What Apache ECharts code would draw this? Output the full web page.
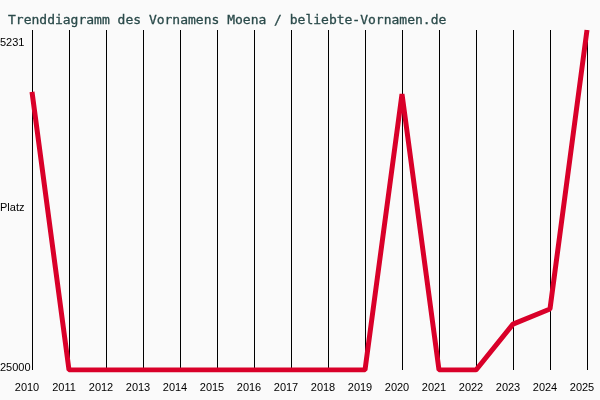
<!doctype html>
<html>
<head>
    <title>Trenddiagramm Moena</title>
    <script src="https://cdn.jsdelivr.net/npm/echarts@6/dist/echarts.min.js"></script>
</head>
<style>
    html, body { margin: 0; padding: 0; background: #fafafa; }
    #chart { width: 600px; height: 400px; }
</style>
<body>
<div id="chart"></div>
<script>
  var years = ['2010', '2011', '2012', '2013', '2014', '2015', '2016', '2017',
               '2018', '2019', '2020', '2021', '2022', '2023', '2024', '2025'];
  var ranks = [8830, 25000, 25000, 25000, 25000, 25000, 25000, 25000,
               25000, 25000, 8950, 25000, 25000, 22330, 21450, 5231];
  var bestRank = 5231;
  var worstRank = 25000;
  var yLabels = ['5231', 'Platz', '25000'];

  var myChart = echarts.init(document.getElementById('chart'));
  var labelFont = { fontFamily: 'Liberation Sans', fontSize: 11, fill: '#000' };

  var option = {
    backgroundColor: '#fafafa',
    animation: false,
    title: {
      text: 'Trenddiagramm des Vornamens Moena / beliebte-Vornamen.de',
      left: 3,
      top: 4,
      textStyle: {
        fontFamily: 'DejaVu Sans Mono',
        fontWeight: 'normal',
        fontSize: 13,
        color: '#2a4a4a',
        textBorderColor: '#2a4a4a',
        textBorderWidth: 0.3
      }
    },
    grid: { left: 32, right: 13, top: 30, bottom: 30 },
    xAxis: {
      type: 'category',
      data: years,
      boundaryGap: false,
      axisLine: { show: false },
      axisTick: { show: false },
      axisLabel: {
        interval: 0,
        margin: 8,
        padding: [0, 10, 0, 0],
        fontFamily: 'Liberation Sans',
        fontSize: 11,
        color: '#000'
      },
      splitLine: { show: true, lineStyle: { color: '#000', width: 1 } }
    },
    yAxis: {
      type: 'value',
      inverse: true,
      min: bestRank,
      max: worstRank,
      axisLabel: { show: false },
      axisLine: { show: false },
      axisTick: { show: false },
      splitLine: { show: false }
    },
    graphic: [
      { type: 'text', left: 0, top: 33, style: Object.assign({ text: yLabels[0] }, labelFont) },
      { type: 'text', left: 0, top: 198, style: Object.assign({ text: yLabels[1] }, labelFont) },
      { type: 'text', left: 0, top: 358, style: Object.assign({ text: yLabels[2] }, labelFont) }
    ],
    series: [{
      type: 'line',
      data: ranks,
      symbol: 'none',
      lineStyle: { color: '#d90029', width: 5 }
    }]
  };

  myChart.setOption(option);
</script>
</body>
</html>
